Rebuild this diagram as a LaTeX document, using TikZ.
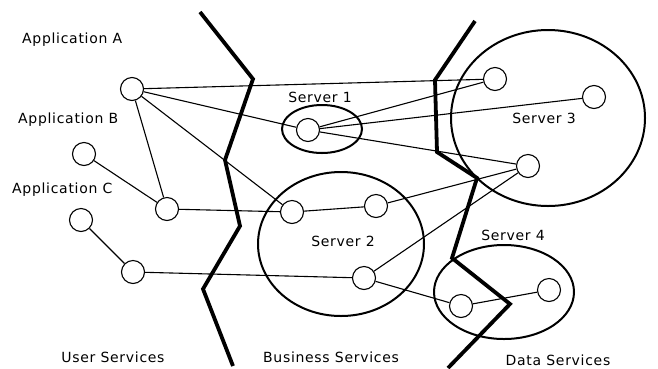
\documentclass[tikz,border=0pt]{standalone}
\usepackage{fontspec}
\setmainfont{DejaVu Sans}[LetterSpace=5]
\begin{document}
\begin{tikzpicture}[x=1pt,y=-1pt,
  pc/.style={circle,draw,line width=1.1pt,minimum size=23pt,inner sep=0pt,fill=white},
  link/.style={line width=1.1pt},
  srv/.style={line width=2pt},
  divider/.style={line width=3.8pt,line join=miter},
  lbl/.style={font=\fontsize{14}{16}\selectfont,inner sep=0pt}]
\useasboundingbox (0,0) rectangle (658,368);
% server ellipses
\draw[srv] (322,129) ellipse [x radius=40,y radius=24];
\draw[srv] (341,244) ellipse [x radius=83,y radius=72];
\draw[srv] (548,118) ellipse [x radius=97,y radius=88];
\draw[srv] (504,292) ellipse [x radius=70,y radius=47];
% dividers
\draw[divider] (200,12) -- (253,79) -- (225,160) -- (240,226) -- (203,289) -- (233,366);
\draw[divider] (475,21) -- (435,80) -- (437,152) -- (477,178) -- (452,258) -- (510,304) -- (448,368);
% nodes
\node[pc] (a) at (132,89) {};
\node[pc] (b) at (84,154) {};
\node[pc] (bm) at (167,209) {};
\node[pc] (c) at (81,220) {};
\node[pc] (cm) at (133,272) {};
\node[pc] (s1) at (308,130) {};
\node[pc] (s2a) at (292,212) {};
\node[pc] (s2b) at (376,206) {};
\node[pc] (s2c) at (364,278) {};
\node[pc] (s3a) at (495,79) {};
\node[pc] (s3b) at (594,97) {};
\node[pc] (s3c) at (528,166) {};
\node[pc] (s4a) at (461,306) {};
\node[pc] (s4b) at (549,290) {};
% connectors
\draw[link] (a) -- (s3a);
\draw[link] (a) -- (s1);
\draw[link] (a) -- (s2a);
\draw[link] (a) -- (bm);
\draw[link] (b) -- (bm);
\draw[link] (bm) -- (s2a);
\draw[link] (s2a) -- (s2b);
\draw[link] (s2b) -- (s3c);
\draw[link] (s2c) -- (s3c);
\draw[link] (c) -- (cm);
\draw[link] (cm) -- (s2c);
\draw[link] (s2c) -- (s4a);
\draw[link] (s4a) -- (s4b);
\draw[link] (s1) -- (s3a);
\draw[link] (s1) -- (s3b);
\draw[link] (s1) -- (s3c);
% labels
\node[lbl,anchor=west] (la) at (22,40) {Application A};
\node[lbl,anchor=west] (lb) at (18,120) {Application B};
\node[lbl,anchor=west] (lc) at (12,190) {Application C};
\node[lbl] (l1) at (320,97) {Server 1};
\node[lbl] (l2) at (343,241) {Server 2};
\node[lbl] (l3) at (544,118) {Server 3};
\node[lbl] (l4) at (513,235) {Server 4};
\node[lbl] (lu) at (113,357) {User Services};
\node[lbl] (lbs) at (331,357) {Business Services};
\node[lbl] (ld) at (558,360) {Data Services};
\end{tikzpicture}
\end{document}
